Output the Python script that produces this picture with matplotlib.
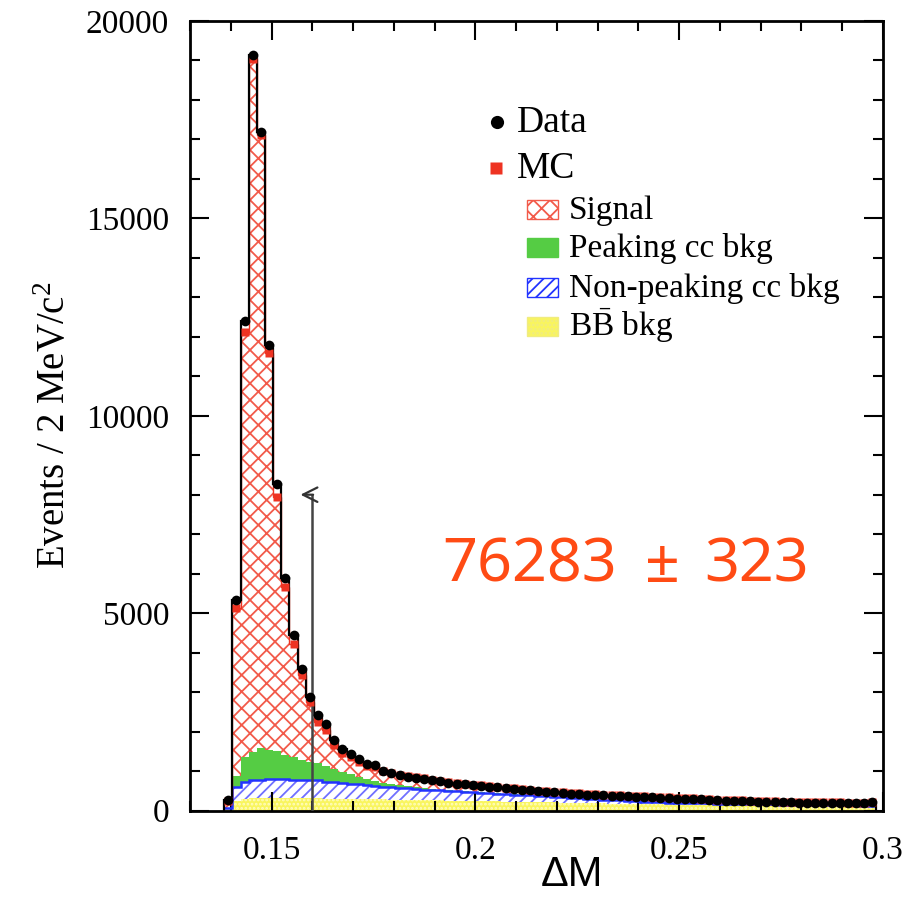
import numpy as np
import matplotlib.pyplot as plt
from matplotlib.patches import Rectangle
from matplotlib.lines import Line2D
from matplotlib.ticker import MultipleLocator, FixedLocator, FixedFormatter

plt.rcParams['font.family'] = ['Liberation Serif', 'DejaVu Serif']
plt.rcParams['mathtext.fontset'] = 'custom'
plt.rcParams['mathtext.rm'] = 'Liberation Serif'
plt.rcParams['mathtext.it'] = 'Liberation Serif:italic'
plt.rcParams['hatch.linewidth'] = 1.3

# binning: 2 MeV bins in Delta M
bin_lo = 0.1384
bin_w = 0.002
n_bins = 80
edges = bin_lo + bin_w * np.arange(n_bins + 1)
centers = edges[:-1] + bin_w / 2

data = [270, 5320, 12400, 19150, 17200, 11790, 8260, 5900, 4440, 3590,
        2870, 2410, 2200, 1780, 1560, 1440, 1310, 1190, 1140, 1010,
        960, 900, 860, 830, 800, 770, 740, 700, 680, 660,
        640, 620, 600, 585, 560, 545, 530, 510, 490, 475,
        460, 445, 430, 420, 405, 395, 385, 375, 370, 360,
        350, 340, 335, 325, 315, 300, 295, 290, 280, 270,
        260, 250, 245, 240, 232, 226, 220, 214, 210, 205,
        202, 198, 195, 192, 190, 187, 185, 182, 180, 215]

mc_total = [230, 5120, 12120, 19050, 17120, 11580, 7940, 5660, 4230, 3420,
            2750, 2240, 2030, 1650, 1450, 1360, 1240, 1130, 1090, 990,
            950, 905, 870, 845, 815, 785, 755, 715, 695, 675,
            655, 635, 615, 600, 575, 560, 545, 525, 505, 490,
            475, 460, 445, 435, 420, 410, 400, 390, 385, 375,
            365, 355, 350, 340, 330, 318, 312, 306, 296, 286,
            276, 266, 260, 255, 248, 242, 236, 230, 226, 221,
            218, 214, 211, 208, 206, 203, 200, 198, 196, 205]

bb_bkg = [40, 240, 300, 315, 320, 320, 320, 318, 315, 312,
          310, 305, 300, 298, 295, 292, 290, 287, 284, 280,
          278, 275, 271, 267, 263, 259, 255, 251, 247, 243,
          240, 236, 232, 229, 225, 222, 218, 215, 211, 208,
          205, 201, 197, 193, 189, 185, 181, 177, 173, 169,
          165, 162, 159, 156, 153, 150, 147, 144, 141, 138,
          135, 133, 131, 128, 126, 124, 121, 119, 117, 114,
          112, 110, 108, 106, 104, 102, 100, 98, 97, 95]

nonpeak_bkg = [20, 345, 430, 455, 460, 470, 475, 472, 470, 468,
               460, 455, 430, 412, 395, 388, 370, 353, 336, 320,
               312, 300, 289, 278, 267, 261, 255, 247, 239, 232,
               225, 216, 208, 199, 191, 182, 174, 165, 157, 148,
               140, 133, 126, 119, 111, 105, 97, 89, 81, 73,
               65, 60, 56, 52, 47, 45, 43, 42, 41, 40,
               39, 37, 36, 36, 35, 34, 34, 33, 33, 33,
               33, 32, 32, 31, 31, 30, 30, 30, 29, 29]

peak_bkg = [10, 300, 620, 720, 795, 750, 700, 620, 560, 500,
            470, 440, 400, 340, 290, 240, 190, 150, 120, 95,
            75, 60, 50, 40, 32, 26, 20, 16, 12, 10,
            8, 6, 5, 4, 3, 3, 2, 2, 1, 1,
            0, 0, 0, 0, 0, 0, 0, 0, 0, 0,
            0, 0, 0, 0, 0, 0, 0, 0, 0, 0,
            0, 0, 0, 0, 0, 0, 0, 0, 0, 0,
            0, 0, 0, 0, 0, 0, 0, 0, 0, 0]

cut_value = 0.16
cut_height = 8000
yield_parts = ['76283', '±', '323']

data = np.array(data, float)
mc_total = np.array(mc_total, float)
lvl1 = np.array(bb_bkg, float)
lvl2 = lvl1 + np.array(nonpeak_bkg, float)
lvl3 = lvl2 + np.array(peak_bkg, float)

W, H = 917, 897
fig = plt.figure(figsize=(W / 100, H / 100), dpi=100)
ax = fig.add_axes([190 / W, 1 - 810.5 / H, 693 / W, 789.5 / H])

c_red = '#ee3322'
c_hatch_red = '#f25a4a'
c_green = '#55cc44'
c_blue_line = '#2233ff'
c_blue_hatch = '#7070ff'
c_yellow = '#f9f55e'

ax.stairs(lvl1, edges, baseline=0, fill=True, facecolor=c_yellow,
          edgecolor='#fffcc0', hatch='....', lw=0, zorder=1)
ax.stairs(lvl2, edges, baseline=lvl1, fill=True, facecolor='white',
          edgecolor=c_blue_hatch, hatch='///', lw=0, zorder=1)
ax.stairs(lvl3, edges, baseline=lvl2, fill=True, facecolor=c_green,
          lw=0, zorder=1)
ax.stairs(mc_total, edges, baseline=lvl3, fill=True, facecolor='white',
          edgecolor=c_hatch_red, hatch='xx', lw=0, zorder=1)
ax.stairs(lvl2, edges, baseline=None, color=c_blue_line, lw=1.8, zorder=2)
ax.stairs(mc_total, edges, baseline=None, color=c_red, lw=1.0, zorder=2)
ax.stairs(data, edges, baseline=0, color='black', lw=1.6, zorder=3)

ax.plot(centers, mc_total, 's', color=c_red, ms=5.5, mec='none', zorder=4)
ax.plot(centers, data, 'o', color='black', ms=7, mec='none', zorder=5)

# signal-window cut arrow
ax.plot([cut_value, cut_value], [0, cut_height], color='#444444', lw=1.8, zorder=3)
ax.annotate('', xy=(0.1571, cut_height), xytext=(cut_value + 0.0002, cut_height),
            arrowprops=dict(arrowstyle='->', color='#333333', lw=1.6,
                            shrinkA=0, shrinkB=0, mutation_scale=26), zorder=3)

# fitted yield, placed piece by piece in pixel positions
yield_font = dict(color='#ff4b14', fontsize=44, family=['Noto Sans', 'DejaVu Sans'],
                  ha='center', va='baseline')
for part, xc in zip(yield_parts, [530, 662, 757]):
    fig.text(xc / W, 1 - 582 / H, part, **yield_font)

ax.set_xlim(0.13, 0.30)
ax.set_ylim(0, 20000)
ax.xaxis.set_major_locator(FixedLocator([0.15, 0.2, 0.25, 0.3]))
ax.xaxis.set_major_formatter(FixedFormatter(['0.15', '0.2', '0.25', '0.3']))
ax.xaxis.set_minor_locator(MultipleLocator(0.01))
ax.yaxis.set_major_locator(MultipleLocator(5000))
ax.yaxis.set_minor_locator(MultipleLocator(1000))
ax.tick_params(which='both', direction='in', top=True, right=True, width=1.5)
ax.tick_params(which='major', length=14, labelsize=24)
ax.tick_params(which='minor', length=7)
ax.tick_params(axis='x', which='major', pad=18)
ax.tick_params(axis='y', which='major', pad=15)
for sp in ax.spines.values():
    sp.set_linewidth(2)

fig.text(572 / W, 1 - 895 / H, 'ΔM', family=['Liberation Sans', 'DejaVu Sans'],
         fontsize=30, ha='center', va='bottom')
fig.text(55 / W, 1 - 425 / H, 'Events / 2 MeV/c$^{\\mathrm{2}}$', rotation=90,
         ha='center', va='center', fontsize=28)

# legend drawn by hand (two levels)
def fx(x):
    return x / W

def fy(y):
    return 1 - y / H

fig.add_artist(Line2D([fx(497)], [fy(122)], marker='o', color='black', ms=9.5,
                      mec='none', transform=fig.transFigure))
fig.text(fx(517), fy(132), 'Data', fontsize=27, va='baseline')
fig.add_artist(Line2D([fx(496)], [fy(168)], marker='s', color=c_red, ms=8.5,
                      mec='none', transform=fig.transFigure))
fig.text(fx(517), fy(178), 'MC', fontsize=27, va='baseline')

entries = [
    ('Signal', 'white', c_hatch_red, 'xx', 200),
    ('Peaking cc bkg', c_green, c_green, None, 238),
    ('Non-peaking cc bkg', 'white', c_blue_line, '///', 278),
    ('B$\\bar{\\mathrm{B}}$ bkg', c_yellow, '#f0ec80', '....', 317),
]
for label, fc, ec, hatch, ytop in entries:
    fig.add_artist(Rectangle((fx(527), fy(ytop + 19)), 31 / W, 19 / H,
                             facecolor=fc, edgecolor=ec, hatch=hatch, lw=1.0,
                             transform=fig.transFigure))
    fig.text(fx(569), fy(ytop + 19), label, fontsize=24, va='baseline')

fig.savefig('out.png', dpi=100)
